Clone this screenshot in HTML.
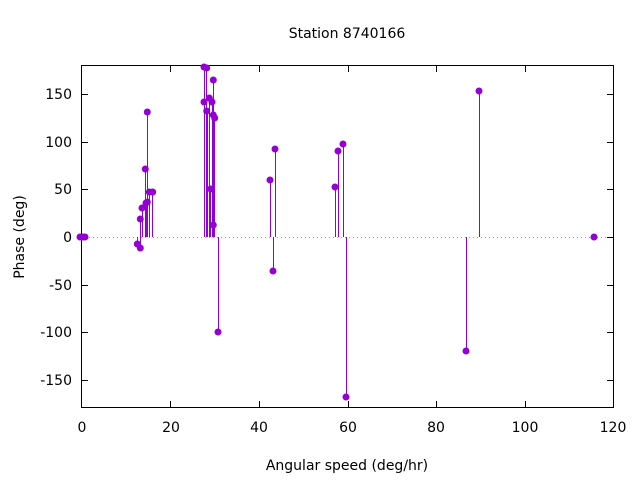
<!DOCTYPE html>
<html><head><style>body{margin:0;background:#fff}svg{display:block}text{font-family:"DejaVu Sans","Liberation Sans",sans-serif;font-size:14px;fill:#000}</style></head><body>
<svg width="640" height="480" xmlns="http://www.w3.org/2000/svg">
<rect width="640" height="480" fill="#fff"/>
<line x1="81" y1="237.5" x2="614" y2="237.5" stroke="#a0a0a0" stroke-dasharray="1,3"/>
<g stroke="#000" stroke-width="1" shape-rendering="crispEdges">
<rect x="81.5" y="65.5" width="532" height="342" fill="none"/>
<path d="M81 94.5h7M81 142.5h7M81 189.5h7M81 237.5h7M81 285.5h7M81 332.5h7M81 380.5h7M614 94.5h-7M614 142.5h-7M614 189.5h-7M614 237.5h-7M614 285.5h-7M614 332.5h-7M614 380.5h-7"/>
<path d="M170.5 408v-7M259.5 408v-7M348.5 408v-7M436.5 408v-7M525.5 408v-7M170.5 65v7M259.5 65v7M348.5 65v7M436.5 65v7M525.5 65v7"/>
</g>
<g text-anchor="end">
<text x="72" y="99">150</text><text x="72" y="147">100</text><text x="72" y="194">50</text><text x="72" y="242">0</text><text x="72" y="290">-50</text><text x="72" y="337">-100</text><text x="72" y="385">-150</text>
</g>
<g text-anchor="middle">
<text x="82" y="432">0</text><text x="171" y="432">20</text><text x="259" y="432">40</text><text x="348" y="432">60</text><text x="436" y="432">80</text><text x="525" y="432">100</text><text x="613" y="432">120</text>
<text x="347" y="470">Angular speed (deg/hr)</text>
<text x="347" y="38">Station 8740166</text>
<text transform="translate(24 237) rotate(-90)">Phase (deg)</text>
</g>
<g stroke="#9400d3" stroke-width="1" fill="#9400d3">
<path shape-rendering="crispEdges" d="M137.5 237V244M140.5 237V248M140.5 237V219M142.5 237V208M145.5 237V169M147.5 237V112M146.5 237V203M149.5 237V192M152.5 237V192M204.5 237V102M204.5 237V67M206.5 237V68M207.5 237V111M209.5 237V98M210.5 237V189M212.5 237V102M213.5 237V80M213.5 237V115M214.5 237V118M213.5 237V225M218.5 237V332M270.5 237V180M273.5 237V271M275.5 237V149M335.5 237V187M338.5 237V151M343.5 237V144M346.5 237V397M466.5 237V351M479.5 237V91"/>
<g stroke="none">
<circle cx="80" cy="237" r="3.5"/><circle cx="83" cy="237" r="3.5"/><circle cx="85" cy="237" r="3.5"/>
<circle cx="137.3" cy="244" r="3.5"/><circle cx="140.3" cy="248" r="3.5"/><circle cx="140.3" cy="219" r="3.5"/><circle cx="142" cy="208" r="3.5"/><circle cx="145.3" cy="169" r="3.5"/><circle cx="147.3" cy="112" r="3.5"/><circle cx="146" cy="203" r="3.5"/><circle cx="147.3" cy="202" r="3.5"/><circle cx="149.3" cy="192" r="3.5"/><circle cx="152.7" cy="192" r="3.5"/>
<circle cx="204" cy="102" r="3.5"/><circle cx="204" cy="67" r="3.5"/><circle cx="206.7" cy="68" r="3.5"/><circle cx="206.7" cy="111" r="3.5"/><circle cx="209.3" cy="98" r="3.5"/><circle cx="210.7" cy="189" r="3.5"/><circle cx="212" cy="102" r="3.5"/><circle cx="213.3" cy="80" r="3.5"/><circle cx="213.3" cy="115" r="3.5"/><circle cx="214.7" cy="118" r="3.5"/><circle cx="213.3" cy="225" r="3.5"/><circle cx="218" cy="332" r="3.5"/>
<circle cx="270" cy="180" r="3.5"/><circle cx="273" cy="271" r="3.5"/><circle cx="275" cy="149" r="3.5"/><circle cx="335" cy="187" r="3.5"/><circle cx="338" cy="151" r="3.5"/><circle cx="343" cy="144" r="3.5"/><circle cx="346" cy="397" r="3.5"/><circle cx="466" cy="351" r="3.5"/><circle cx="479" cy="91" r="3.5"/><circle cx="594" cy="237" r="3.5"/>
</g>
</g>
</svg>
</body></html>
